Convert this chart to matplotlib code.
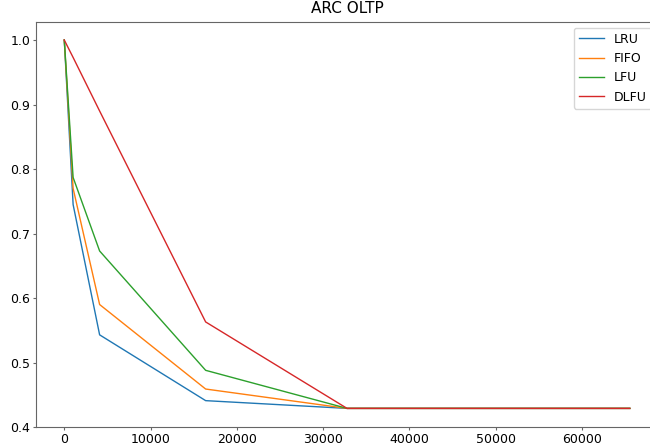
import matplotlib
matplotlib.use('Agg')
import matplotlib.pyplot as plt

# cache sizes and hit ratios
cache_size = [1, 1024, 4096, 16384, 32768, 65536]
lru = [1.0, 0.745, 0.543, 0.441, 0.429, 0.429]
fifo = [1.0, 0.770, 0.590, 0.459, 0.429, 0.429]
lfu = [1.0, 0.787, 0.673, 0.488, 0.429, 0.429]
dlfu = [1.0, 0.973, 0.890, 0.563, 0.429, 0.429]

fig = plt.figure(figsize=(6.5, 4.48), dpi=100)
ax = fig.add_axes([0.0554, 0.0458, 0.957, 0.906])

ax.plot(cache_size, lru, label='LRU', linewidth=1)
ax.plot(cache_size, fifo, label='FIFO', linewidth=1)
ax.plot(cache_size, lfu, label='LFU', linewidth=1)
ax.plot(cache_size, dlfu, label='DLFU', linewidth=1)

ax.set_ylim(0.3994, 1.0286)
ax.set_title('ARC OLTP', fontsize=11, pad=6)
ax.tick_params(labelsize=9, length=2.5, pad=1.5, color='0.4')
for s in ax.spines.values():
    s.set_color('0.4')
ax.legend(fontsize=9)

fig.savefig('out.png', dpi=100)
